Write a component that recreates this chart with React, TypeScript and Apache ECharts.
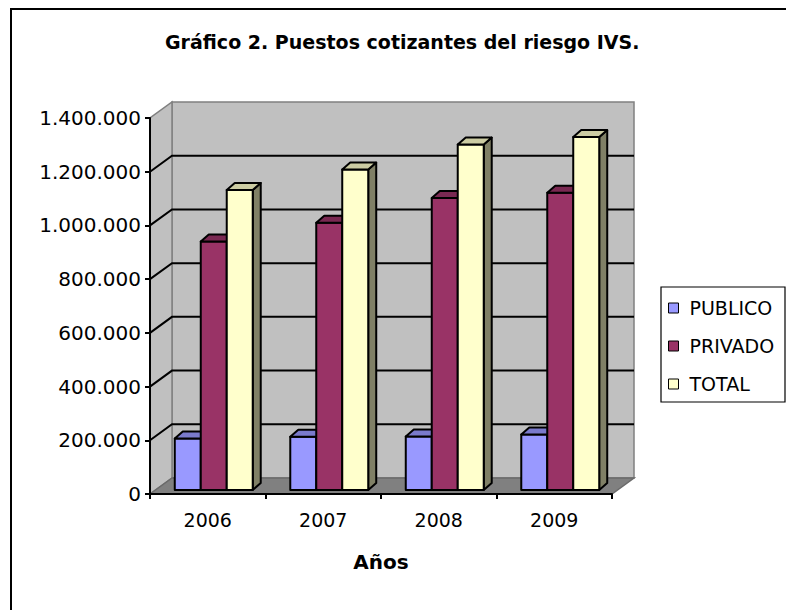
import React, { useEffect, useRef } from "react";
import * as echarts from "echarts";

const categories = ["2006", "2007", "2008", "2009"];
const seriesNames = ["PUBLICO", "PRIVADO", "TOTAL"];
const publico = [192000, 198000, 199000, 207000];
const privado = [925000, 995000, 1087000, 1107000];
const total = [1117000, 1193000, 1286000, 1314000];
const gridTicks = [200000, 400000, 600000, 800000, 1000000, 1200000];
const seriesValues = [publico, privado, total];

const colors = ["#9999ff", "#993366", "#ffffcc"];
const FONT = "'DejaVu Sans', 'Liberation Sans', Arial, sans-serif";

function shade(hex: string, f: number) {
  const n = parseInt(hex.slice(1), 16);
  const r = Math.round(((n >> 16) & 255) * f);
  const g = Math.round(((n >> 8) & 255) * f);
  const b = Math.round((n & 255) * f);
  return "rgb(" + r + "," + g + "," + b + ")";
}

function fmt(v: number) {
  return String(v).replace(/\B(?=(\d{3})+(?!\d))/g, ".");
}

const WD = { x: 22, y: -16 }; // wall depth
const BP = { x: 6, y: -4 }; // bar plane offset
const BD = { x: 8, y: -7 }; // bar depth

export default function App() {
  const ref = useRef<HTMLDivElement>(null);
  useEffect(() => {
    if (!ref.current) return;
    const chart = echarts.init(ref.current, null, { renderer: "svg" });

    const wallSeries: any = {
      type: "custom",
      name: "walls",
      coordinateSystem: "cartesian2d",
      z: 1,
      silent: true,
      clip: false,
      data: [[0, 0]],
      renderItem: (params: any) => {
        const cs = params.coordSys;
        const x0 = cs.x, x1 = cs.x + cs.width, yT = cs.y, yB = cs.y + cs.height;
        return {
          type: "group",
          children: [
            {
              type: "rect",
              shape: { x: x0 + WD.x, y: yT + WD.y, width: x1 - x0, height: yB - yT },
              style: { fill: "#c0c0c0", stroke: "#808080", lineWidth: 1.5 },
            },
            {
              type: "polygon",
              shape: { points: [[x0, yB], [x0 + WD.x, yB + WD.y], [x0 + WD.x, yT + WD.y], [x0, yT]] },
              style: { fill: "#c0c0c0", stroke: "#808080", lineWidth: 1.5 },
            },
            {
              type: "polygon",
              shape: { points: [[x0, yB], [x1, yB], [x1 + WD.x, yB + WD.y], [x0 + WD.x, yB + WD.y]] },
              style: { fill: "#808080", stroke: "#6a6a6a", lineWidth: 1.5 },
            },
          ],
        };
      },
    };

    const gridSeries: any = {
      type: "custom",
      name: "grid",
      coordinateSystem: "cartesian2d",
      z: 2,
      silent: true,
      clip: false,
      data: gridTicks.map((v) => [0, v]),
      renderItem: (params: any, api: any) => {
        const cs = params.coordSys;
        const p = api.coord([0, api.value(1)]);
        const y = p[1];
        return {
          type: "polyline",
          shape: {
            points: [
              [cs.x, y],
              [cs.x + WD.x, y + WD.y],
              [cs.x + cs.width + WD.x, y + WD.y],
            ],
          },
          style: { stroke: "#000", lineWidth: 2, fill: null },
        };
      },
    };

    const barSeries: any[] = seriesNames.map((name, k) => {
      const col = colors[k];
      const topc = shade(col, 0.8);
      const side = shade(col, 0.5);
      return {
        type: "custom",
        name,
        coordinateSystem: "cartesian2d",
        z: 3 + k,
        clip: false,
        itemStyle: { color: col },
        data: seriesValues[k].map((v, i) => [i, v]),
        encode: { x: 0, y: 1 },
        renderItem: (params: any, api: any) => {
          const i = api.value(0);
          const v = api.value(1);
          const base = api.coord([i, 0]);
          const top = api.coord([i, v]);
          const band = api.size([1, 0])[0];
          const bw = band * 0.225;
          const x0 = base[0] + BP.x - 1.5 * bw + k * bw;
          const x1 = x0 + bw;
          const yb = base[1] + BP.y;
          const yt = top[1] + BP.y;
          const st = { stroke: "#000", lineWidth: 2, lineJoin: "round" };
          return {
            type: "group",
            children: [
              {
                type: "polygon",
                shape: { points: [[x1, yt], [x1 + BD.x, yt + BD.y], [x1 + BD.x, yb + BD.y], [x1, yb]] },
                style: { fill: side, ...st },
              },
              {
                type: "rect",
                shape: { x: x0, y: yt, width: bw, height: yb - yt },
                style: { fill: col, ...st },
              },
              {
                type: "polygon",
                shape: { points: [[x0, yt], [x1, yt], [x1 + BD.x, yt + BD.y], [x0 + BD.x, yt + BD.y]] },
                style: { fill: topc, ...st },
              },
            ],
          };
        },
      };
    });

    chart.setOption({
      animation: false,
      backgroundColor: "#ffffff",
      title: {
        text: "Gráfico 2. Puestos cotizantes del riesgo IVS.",
        left: 165,
        top: 32,
        padding: 0,
        textStyle: { fontFamily: FONT, fontSize: 19, fontWeight: "bold", color: "#000" },
      },
      legend: {
        data: seriesNames,
        orient: "vertical",
        left: 668,
        top: 298,
        icon: "rect",
        itemWidth: 10,
        itemHeight: 10,
        itemGap: 18,
        padding: 0,
        itemStyle: { borderColor: "#000", borderWidth: 1 },
        textStyle: { fontFamily: FONT, fontSize: 19, color: "#000", lineHeight: 20, padding: [0, 0, 0, 6] },
        selectedMode: false,
      },
      graphic: [
        {
          type: "rect",
          shape: { x: 11, y: 9, width: 900, height: 800 },
          style: { fill: null, stroke: "#000", lineWidth: 2 },
          silent: true,
          z: -1,
        },
        {
          type: "rect",
          shape: { x: 661, y: 287, width: 124, height: 115 },
          style: { fill: null, stroke: "#000", lineWidth: 1.2 },
          silent: true,
        },
      ],
      grid: { left: 150, right: 174, top: 118, bottom: 116, containLabel: false },
      xAxis: {
        type: "category",
        data: categories,
        name: "Años",
        nameLocation: "middle",
        nameGap: 58,
        nameTextStyle: { fontFamily: FONT, fontSize: 20, fontWeight: "bold", color: "#000" },
        axisLine: { lineStyle: { color: "#000", width: 2 } },
        axisTick: { show: true, length: 5, lineStyle: { color: "#000", width: 2 } },
        axisLabel: { fontFamily: FONT, fontSize: 19, color: "#000", margin: 16 },
        splitLine: { show: false },
        z: 10,
      },
      yAxis: {
        type: "value",
        min: 0,
        max: 1400000,
        interval: 200000,
        axisLine: { show: true, lineStyle: { color: "#000", width: 2 } },
        axisTick: { show: true, length: 5, lineStyle: { color: "#000", width: 2 } },
        axisLabel: { fontFamily: FONT, fontSize: 20, color: "#000", margin: 9, formatter: (v: number) => fmt(v) },
        splitLine: { show: false },
        z: 10,
      },
      series: [wallSeries, gridSeries, ...barSeries],
    });
    return () => chart.dispose();
  }, []);
  return (
    <div
      ref={ref}
      style={{ position: "fixed", left: 0, top: 0, width: 786, height: 610, background: "#fff" }}
    />
  );
}
